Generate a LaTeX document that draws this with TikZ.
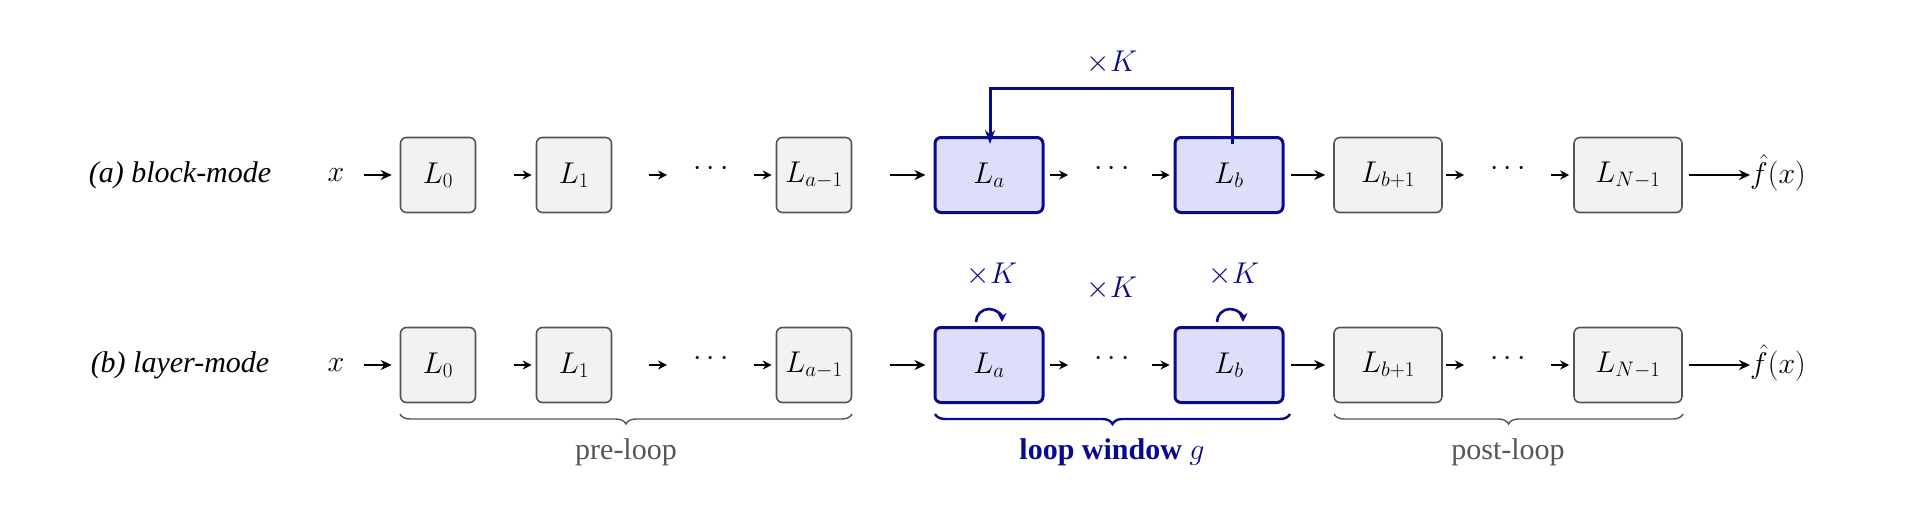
\RequirePackage{fix-cm}
\documentclass[tikz,border=0pt]{standalone}
\usepackage{fontspec}
\setmainfont{Liberation Serif}
\usetikzlibrary{arrows.meta,decorations.pathreplacing}
\definecolor{navy}{RGB}{10,10,140}
\definecolor{bfill}{RGB}{222,222,250}
\definecolor{gfill}{RGB}{242,242,242}
\definecolor{gline}{RGB}{85,85,85}
\begin{document}
\begin{tikzpicture}[x=1pt,y=-1pt,
 gbox/.style={draw=gline,fill=gfill,line width=1.6pt,rounded corners=6pt,minimum width=75pt,minimum height=75pt,font=\fontsize{30}{36}\selectfont},
 bbox/.style={gbox,draw=navy,fill=bfill,line width=3pt,minimum width=108pt},
 wbox/.style={gbox,minimum width=108pt},
 txt/.style={font=\fontsize{30}{36}\selectfont},
 lab/.style={font=\fontsize{30}{36}\selectfont\itshape},
 sa/.style={-{Stealth[length=9pt,width=9pt]},line width=1.6pt,shorten >=4pt},
 ba/.style={-{Stealth[length=11pt,width=10pt]},line width=2.4pt},
 br/.style={decorate,decoration={brace,amplitude=10pt},line width=1.4pt}]
\useasboundingbox (0,0) rectangle (1908,522);
\foreach \r/\y/\t in {a/175/(a) block-mode, b/365/(b) layer-mode}{
 \node[lab] (lab\r) at (180,\y) {\t};
 \node[txt] (x\r) at (336,\y) {$x$};
 \node[gbox] (L0\r) at (438,\y) {$L_0$};
 \node[gbox] (L1\r) at (574,\y) {$L_1$};
 \node[txt] (d1\r) at (711,\y-6) {$\cdots$};
 \node[gbox] (La1\r) at (814,\y) {$L_{a-1}$};
 \node[bbox] (La\r) at (989,\y) {$L_a$};
 \node[txt] (d2\r) at (1112,\y-6) {$\cdots$};
 \node[bbox] (Lb\r) at (1229,\y) {$L_b$};
 \node[wbox] (Lbp\r) at (1388,\y) {$L_{b+1}$};
 \node[txt] (d3\r) at (1508,\y-6) {$\cdots$};
 \node[wbox] (LN\r) at (1628,\y) {$L_{N-1}$};
 \node[txt] (f\r) at (1778,\y-2) {$\hat f(x)$};
 \draw[ba] ([xshift=28pt]x\r.center |- L0\r.west) -- ([xshift=-8pt]L0\r.west);
 \draw[sa] ([xshift=-22pt]L1\r.west) -- (L1\r.west);
 \draw[sa] ([xshift=-62pt]d1\r.center |- L1\r.east) -- ([xshift=-40pt]d1\r.center |- L1\r.east);
 \draw[sa] ([xshift=-22pt]La1\r.west) -- (La1\r.west);
 \draw[ba] ([xshift=-44pt]La\r.west) -- ([xshift=-8pt]La\r.west);
 \draw[sa] ([xshift=-62pt]d2\r.center |- La\r.east) -- ([xshift=-40pt]d2\r.center |- La\r.east);
 \draw[sa] ([xshift=-22pt]Lb\r.west) -- (Lb\r.west);
 \draw[ba] ([xshift=-42pt]Lbp\r.west) -- ([xshift=-8pt]Lbp\r.west);
 \draw[sa] ([xshift=-62pt]d3\r.center |- Lbp\r.east) -- ([xshift=-40pt]d3\r.center |- Lbp\r.east);
 \draw[sa] ([xshift=-22pt]LN\r.west) -- (LN\r.west);
 \draw[ba] ([xshift=6pt]LN\r.east) -- ([xshift=-28pt]f\r.center |- LN\r.east);
}
% block-mode feedback
\coordinate (fbR) at (1232,88);
\coordinate (fbL) at (990,88);
\draw[navy,line width=3pt,-{Stealth[length=14pt,width=10pt]}] ([yshift=-8pt]Lba.north -| fbR) -- (fbR) -- (fbL) -- ([yshift=-8pt]Laa.north -| fbL);
\node[txt,text=navy] (kA) at (1112,62) {$\times K$};
% layer-mode loops
\draw[navy,line width=2.6pt,-{Stealth[length=9pt,width=9pt]}] (976,322) arc[start angle=180,end angle=360,radius=13];
\draw[navy,line width=2.6pt,-{Stealth[length=9pt,width=9pt]}] (1217,322) arc[start angle=180,end angle=360,radius=13];
\node[txt,text=navy] (kB1) at (992,274) {$\times K$};
\node[txt,text=navy] (kB2) at (1112,288) {$\times K$};
\node[txt,text=navy] (kB3) at (1234,274) {$\times K$};
% braces
\draw[br,draw=gline] (852,414) -- (400,414);
\draw[br,draw=navy,line width=2.4pt] (1290,414) -- (935,414);
\draw[br,draw=gline] (1683,414) -- (1334,414);
\node[font=\fontsize{30}{36}\selectfont,text=gline] (pre) at (626,452) {pre-loop};
\node[font=\fontsize{30}{36}\selectfont\bfseries,text=navy] (lw) at (1112,452) {loop window \textmd{$g$}};
\node[font=\fontsize{30}{36}\selectfont,text=gline] (post) at (1508,452) {post-loop};
\end{tikzpicture}
\end{document}
